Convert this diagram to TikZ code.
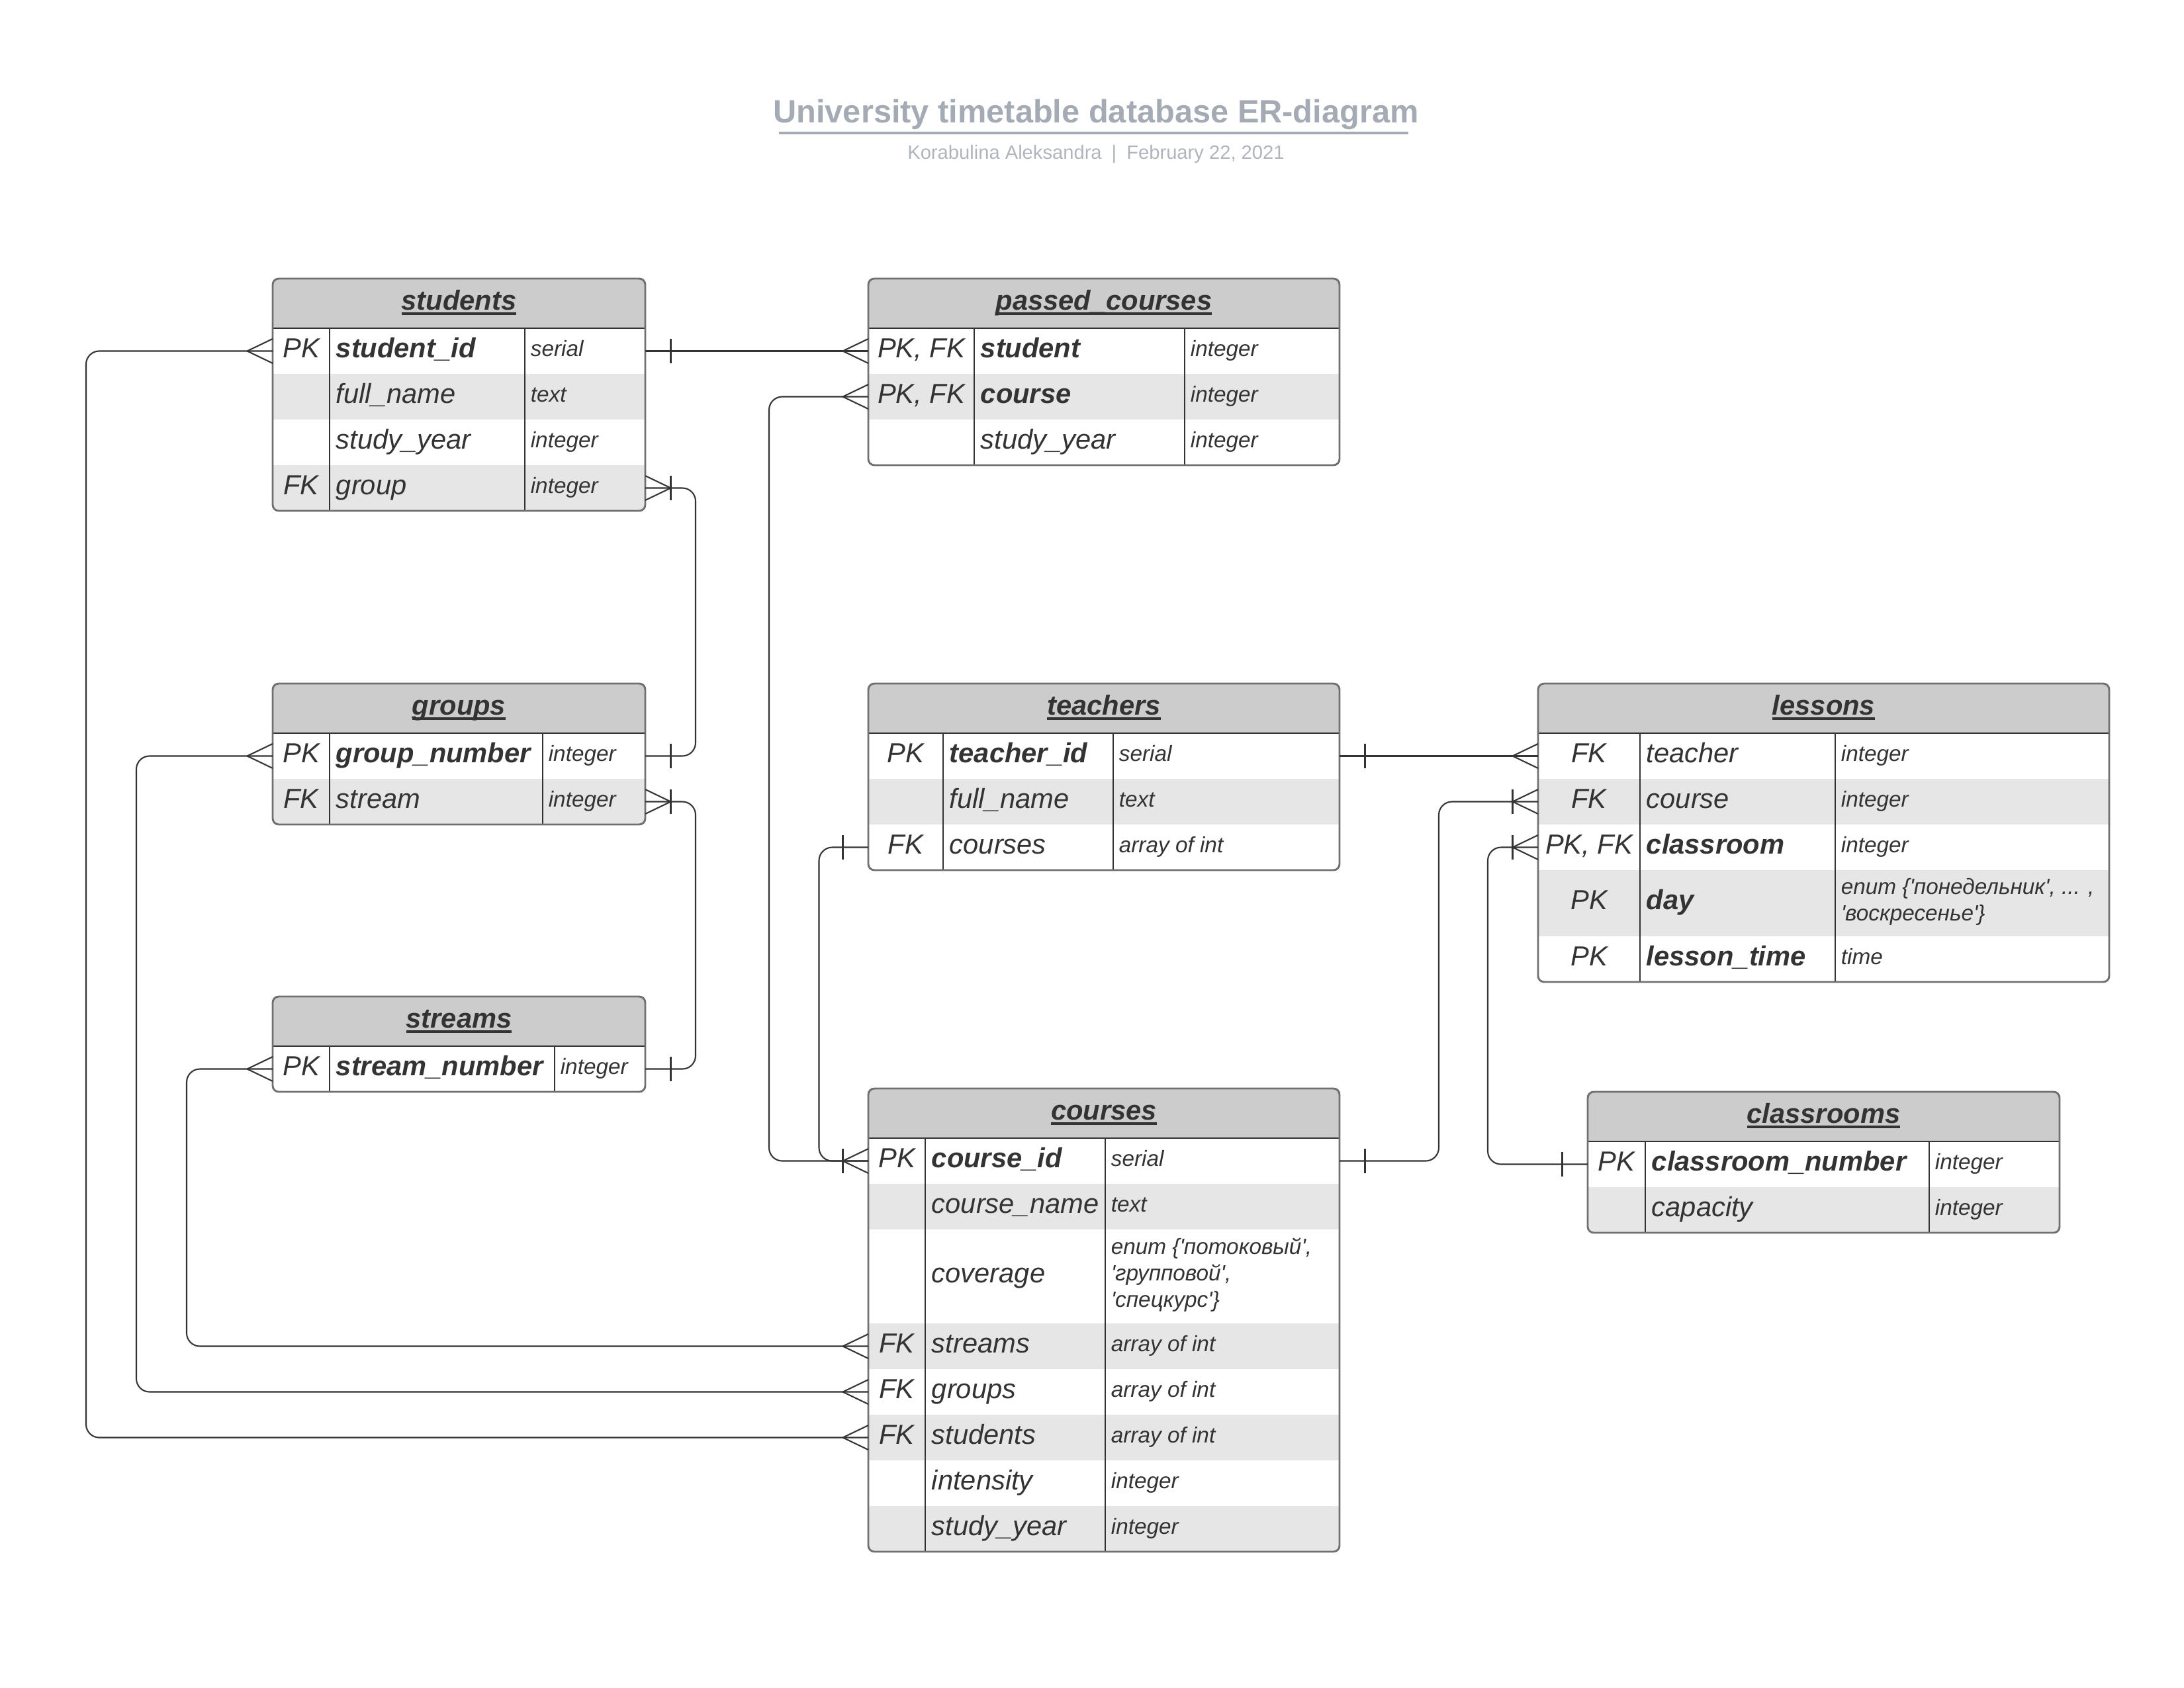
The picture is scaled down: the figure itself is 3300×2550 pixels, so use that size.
\documentclass[tikz,border=0pt]{standalone}
\usepackage{fontspec}
\setmainfont{Liberation Sans}
% plain family: keeps straight quotes in the enum values
\newfontfamily\ersans{Liberation Sans}
\usetikzlibrary{calc}

\definecolor{ink}{HTML}{333333}
\definecolor{hdr}{HTML}{CCCCCC}
\definecolor{alt}{HTML}{E6E6E6}
\definecolor{tblframe}{HTML}{707070}
\definecolor{headline}{HTML}{A5ABB4}
\definecolor{subline}{HTML}{B0B5BC}

% table name, underlined with a heavier rule
\newcommand\ertitle[1]{\setbox0=\hbox{#1}\leavevmode\rlap{\raisebox{-1.8pt}{\rule{\wd0}{0.95pt}}}\box0}

\tikzset{
  conn/.style={draw=ink, line width=0.5pt},
  rowbox/.style={anchor=north west, inner sep=0pt, outer sep=0pt, draw=none},
  keytext/.style={anchor=base, inner sep=0pt, text=ink, font=\fontsize{10}{12}\selectfont\itshape},
  fieldtext/.style={anchor=base west, inner sep=0pt, text=ink, font=\fontsize{10}{12}\selectfont\itshape},
  pkfield/.style={anchor=base west, inner sep=0pt, text=ink, font=\fontsize{10}{12}\selectfont\bfseries\itshape},
  typetext/.style={anchor=base west, inner sep=0pt, text=ink, font=\ersans\fontsize{8}{9.6}\selectfont\itshape},
  typemulti/.style={anchor=west, inner sep=0pt, text=ink, align=left, font=\ersans\fontsize{8}{9.6}\selectfont\itshape},
  tabletitle/.style={anchor=base, inner sep=0pt, text=ink, font=\fontsize{10}{12}\selectfont\bfseries\itshape},
  tableframe/.style={draw=tblframe, line width=0.7pt, rounded corners=2.2pt},
  divider/.style={draw=ink, line width=0.5pt},
  route/.style={conn, rounded corners=4.8pt},
  pics/crowfoot/.style={code={\draw[conn] (-38.5,0) -- (0,18.5) (-38.5,0) -- (0,-18.5);}},
  pics/onebar/.style={code={\draw[conn] (-38.5,-18.5) -- (-38.5,18.5);}},
}

% #1 name, #2 left, #3 right, #4 first divider, #5 second divider, #6 top, #7 bottom, #8 title
\newcommand\ertablebegin[8]{%
  \def\tL{#2}\def\tR{#3}\def\cA{#4}\def\cB{#5}\def\tT{#6}\def\tB{#7}%
  \fill[white, rounded corners=2.2pt] (\tL,\tT) rectangle (\tR,\tB);
  \begin{scope}
  \clip[rounded corners=2.2pt] (\tL,\tT) rectangle (\tR,\tB);
  \fill[hdr] (\tL,\tT) rectangle (\tR,{\tT+75});
  \node[tabletitle] (#1) at ({(\tL+\tR)/2},{\tT+47}) {\ertitle{#8}};
}
\newcommand\ertableend{%
  \draw[divider] (\tL,{\tT+75}) -- (\tR,{\tT+75});
  \draw[divider] (\cA,{\tT+75}) -- (\cA,\tB);
  \draw[divider] (\cB,{\tT+75}) -- (\cB,\tB);
  \end{scope}
  \draw[tableframe] (\tL,\tT) rectangle (\tR,\tB);
}
% #1 name, #2 top, #3 height, #4 fill, #5 key, #6 field style, #7 field, #8 type
\newcommand\errow[8]{%
  \node[rowbox, fill=#4, minimum width={(\tR-\tL)*0.24pt}, minimum height={(#3)*0.24pt}] (#1) at (\tL,#2) {};
  \node[keytext] at ({(\tL+\cA)/2},{#2+#3/2+9.5}) {#5};
  \node[#6] at ({\cA+9},{#2+#3/2+9.5}) {#7};
  \node[typetext] at ({\cB+8},{#2+#3/2+8}) {#8};
}
% same, with a type written on several lines
\newcommand\errowm[8]{%
  \node[rowbox, fill=#4, minimum width={(\tR-\tL)*0.24pt}, minimum height={(#3)*0.24pt}] (#1) at (\tL,#2) {};
  \node[keytext] at ({(\tL+\cA)/2},{#2+#3/2+9.5}) {#5};
  \node[#6] at ({\cA+9},{#2+#3/2+9.5}) {#7};
  \node[typemulti] at ({\cB+8},{#2+#3/2-2}) {#8};
}

\begin{document}
\begin{tikzpicture}[x=0.24pt, y=-0.24pt]
\useasboundingbox (0,0) rectangle (3300,2550);

% heading
\node[anchor=base, inner sep=0pt, text=headline, font=\fontsize{11.7}{14}\selectfont\bfseries] (heading) at (1656,185) {University timetable database ER-diagram};
\draw[headline, line width=0.85pt] (1177,201) -- (2128,201);
\node[anchor=base, inner sep=0pt, text=subline, font=\fontsize{7}{8}\selectfont] (byline) at (1656,240) {Korabulina Aleksandra\hspace{3.6pt}|\hspace{3.6pt}February 22, 2021};

% students
\ertablebegin{students}{412}{975}{498}{793}{421}{772}{students}
\errow{st1}{496}{69}{white}{PK}{pkfield}{student\_id}{serial}
\errow{st2}{565}{69}{alt}{}{fieldtext}{full\_name}{text}
\errow{st3}{634}{69}{white}{}{fieldtext}{study\_year}{integer}
\errow{st4}{703}{69}{alt}{FK}{fieldtext}{group}{integer}
\ertableend

% passed_courses
\ertablebegin{passed}{1312}{2024}{1472}{1790}{421}{703}{passed\_courses}
\errow{pc1}{496}{69}{white}{PK, FK}{pkfield}{student}{integer}
\errow{pc2}{565}{69}{alt}{PK, FK}{pkfield}{course}{integer}
\errow{pc3}{634}{69}{white}{}{fieldtext}{study\_year}{integer}
\ertableend

% groups
\ertablebegin{groups}{412}{975}{498}{820}{1033}{1246}{groups}
\errow{gr1}{1108}{69}{white}{PK}{pkfield}{group\_number}{integer}
\errow{gr2}{1177}{69}{alt}{FK}{fieldtext}{stream}{integer}
\ertableend

% streams
\ertablebegin{streams}{412}{975}{498}{838}{1506}{1650}{streams}
\errow{sm1}{1581}{69}{white}{PK}{pkfield}{stream\_number}{integer}
\ertableend

% teachers
\ertablebegin{teachers}{1312}{2024}{1425}{1682}{1033}{1315}{teachers}
\errow{te1}{1108}{69}{white}{PK}{pkfield}{teacher\_id}{serial}
\errow{te2}{1177}{69}{alt}{}{fieldtext}{full\_name}{text}
\errow{te3}{1246}{69}{white}{FK}{fieldtext}{courses}{array of int}
\ertableend

% lessons
\ertablebegin{lessons}{2324}{3187}{2478}{2773}{1033}{1484}{lessons}
\errow{le1}{1108}{69}{white}{FK}{fieldtext}{teacher}{integer}
\errow{le2}{1177}{69}{alt}{FK}{fieldtext}{course}{integer}
\errow{le3}{1246}{69}{white}{PK, FK}{pkfield}{classroom}{integer}
\errowm{le4}{1315}{100}{alt}{PK}{pkfield}{day}{enum \{'понедельник', ... ,\\'воскресенье'\}}
\errow{le5}{1415}{69}{white}{PK}{pkfield}{lesson\_time}{time}
\ertableend

% courses
\ertablebegin{courses}{1312}{2024}{1398}{1670}{1645}{2345}{courses}
\errow{co1}{1720}{69}{white}{PK}{pkfield}{course\_id}{serial}
\errow{co2}{1789}{69}{alt}{}{fieldtext}{course\_name}{text}
\errowm{co3}{1858}{142}{white}{}{fieldtext}{coverage}{enum \{'потоковый',\\'групповой',\\'спецкурс'\}}
\errow{co4}{2000}{69}{alt}{FK}{fieldtext}{streams}{array of int}
\errow{co5}{2069}{69}{white}{FK}{fieldtext}{groups}{array of int}
\errow{co6}{2138}{69}{alt}{FK}{fieldtext}{students}{array of int}
\errow{co7}{2207}{69}{white}{}{fieldtext}{intensity}{integer}
\errow{co8}{2276}{69}{alt}{}{fieldtext}{study\_year}{integer}
\ertableend

% classrooms
\ertablebegin{classrooms}{2399}{3112}{2486}{2915}{1650}{1863}{classrooms}
\errow{cl1}{1725}{69}{white}{PK}{pkfield}{classroom\_number}{integer}
\errow{cl2}{1794}{69}{alt}{}{fieldtext}{capacity}{integer}
\ertableend

% relationships
\draw[route] (st1.west) -- ++(-282,0) |- (co6.west);
\pic at (st1.west) {crowfoot};
\pic at (co6.west) {crowfoot};

\draw[route] (st1.east) -- (pc1.west);
\pic[xscale=-1] at (st1.east) {onebar};
\pic at (pc1.west) {crowfoot};

\draw[route] (pc2.west) -- ++(-150,0) |- (co1.west);
\pic at (pc2.west) {crowfoot};
\pic at (co1.west) {crowfoot};

\draw[route] (st4.east) -- ++(76,0) |- (gr1.east);
\pic[xscale=-1] at (st4.east) {crowfoot};
\pic[xscale=-1] at (st4.east) {onebar};
\pic[xscale=-1] at (gr1.east) {onebar};

\draw[route] (gr2.east) -- ++(76,0) |- (sm1.east);
\pic[xscale=-1] at (gr2.east) {crowfoot};
\pic[xscale=-1] at (gr2.east) {onebar};
\pic[xscale=-1] at (sm1.east) {onebar};

\draw[route] (gr1.west) -- ++(-206,0) |- (co5.west);
\pic at (gr1.west) {crowfoot};
\pic at (co5.west) {crowfoot};

\draw[route] (sm1.west) -- ++(-130,0) |- (co4.west);
\pic at (sm1.west) {crowfoot};
\pic at (co4.west) {crowfoot};

\draw[route] (te3.west) -- ++(-74.5,0) |- (co1.west);
\pic at (te3.west) {onebar};
\pic at (co1.west) {onebar};

\draw[route] (te1.east) -- (le1.west);
\pic[xscale=-1] at (te1.east) {onebar};
\pic at (le1.west) {crowfoot};

\draw[route] (co1.east) -- ++(150,0) |- (le2.west);
\pic[xscale=-1] at (co1.east) {onebar};
\pic at (le2.west) {crowfoot};
\pic at (le2.west) {onebar};

\draw[route] (cl1.west) -- ++(-151,0) |- (le3.west);
\pic at (cl1.west) {onebar};
\pic at (le3.west) {crowfoot};
\pic at (le3.west) {onebar};
\end{tikzpicture}
\end{document}
